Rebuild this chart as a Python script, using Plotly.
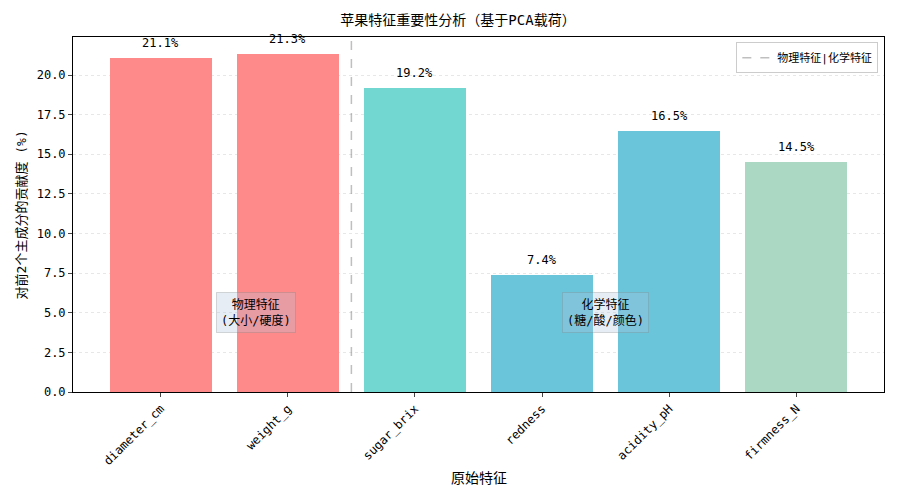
import plotly.graph_objects as go

# 数据
features = ['diameter_cm', 'weight_g', 'sugar_brix', 'redness', 'acidity_pH', 'firmness_N']
contrib = [21.1, 21.3, 19.2, 7.4, 16.5, 14.5]
bar_colors = ['#FF8A8A', '#FF8A8A', '#71D7D0', '#6AC5DA', '#6AC5DA', '#ABD8C3']
y_ticks = [0, 2.5, 5, 7.5, 10, 12.5, 15, 17.5, 20]

FONT = 'DejaVu Sans Mono, Noto Sans CJK SC'

fig = go.Figure()

fig.add_trace(go.Bar(
    x=list(range(len(features))),
    y=contrib,
    width=0.8,
    marker=dict(color=bar_colors, line=dict(width=0)),
    showlegend=False,
))

# 数值标签
for i, v in enumerate(contrib):
    fig.add_annotation(x=i, y=v, text=f'{v}%', showarrow=False,
                       yanchor='bottom', yshift=6, font=dict(size=12, color='black'))

# 分隔线
fig.add_trace(go.Scatter(
    x=[1.5, 1.5], y=[0, 22.4], mode='lines',
    line=dict(color='rgba(128,128,128,0.5)', dash='dash', width=1.5),
    name='物理特征|化学特征',
))

box = dict(showarrow=False, font=dict(size=12, color='black', family=FONT),
           bgcolor='rgba(176,196,222,0.3)', bordercolor='rgba(128,128,128,0.3)',
           borderwidth=1, borderpad=4)
fig.add_annotation(x=0.75, y=5, text='物理特征<br>(大小/硬度)', **box)
fig.add_annotation(x=3.5, y=5, text='化学特征<br>(糖/酸/颜色)', **box)

# 坐标轴标题
fig.add_annotation(xref='paper', yref='paper', x=-0.063, y=0.5, textangle=-90,
                   text='对前2个主成分的贡献度 (%)', showarrow=False,
                   xanchor='center', yanchor='middle', font=dict(size=13))
fig.add_annotation(xref='paper', yref='paper', x=0.5, y=-0.242,
                   text='原始特征', showarrow=False,
                   xanchor='center', yanchor='middle', font=dict(size=14))

fig.update_layout(
    width=900, height=500,
    margin=dict(l=65, r=24, t=29, b=116),
    plot_bgcolor='white', paper_bgcolor='white',
    font=dict(family=FONT, size=12, color='black'),
    title=dict(text='苹果特征重要性分析（基于PCA载荷）', x=0.5, xanchor='center',
               y=0.976, yanchor='middle', font=dict(size=14)),
    bargap=0,
    legend=dict(x=0.993, y=0.985, xanchor='right', yanchor='top',
                bgcolor='white', bordercolor='#cccccc', borderwidth=1,
                font=dict(size=11)),
)

fig.update_xaxes(
    range=[-0.69, 5.69], automargin=False,
    tickmode='array', tickvals=list(range(len(features))), ticktext=features,
    tickangle=-45, ticks='outside', ticklen=4,
    showline=True, linecolor='black', linewidth=1, mirror=True,
    showgrid=False, zeroline=False,
)
fig.update_yaxes(
    range=[0, 22.4], automargin=False,
    tickmode='array', tickvals=y_ticks, ticktext=[f'{v:.1f}' for v in y_ticks],
    ticks='outside', ticklen=4,
    showline=True, linecolor='black', linewidth=1, mirror=True,
    showgrid=True, gridcolor='rgba(176,176,176,0.3)', griddash='dot',
    zeroline=False,
)

fig.write_html('out.html')
